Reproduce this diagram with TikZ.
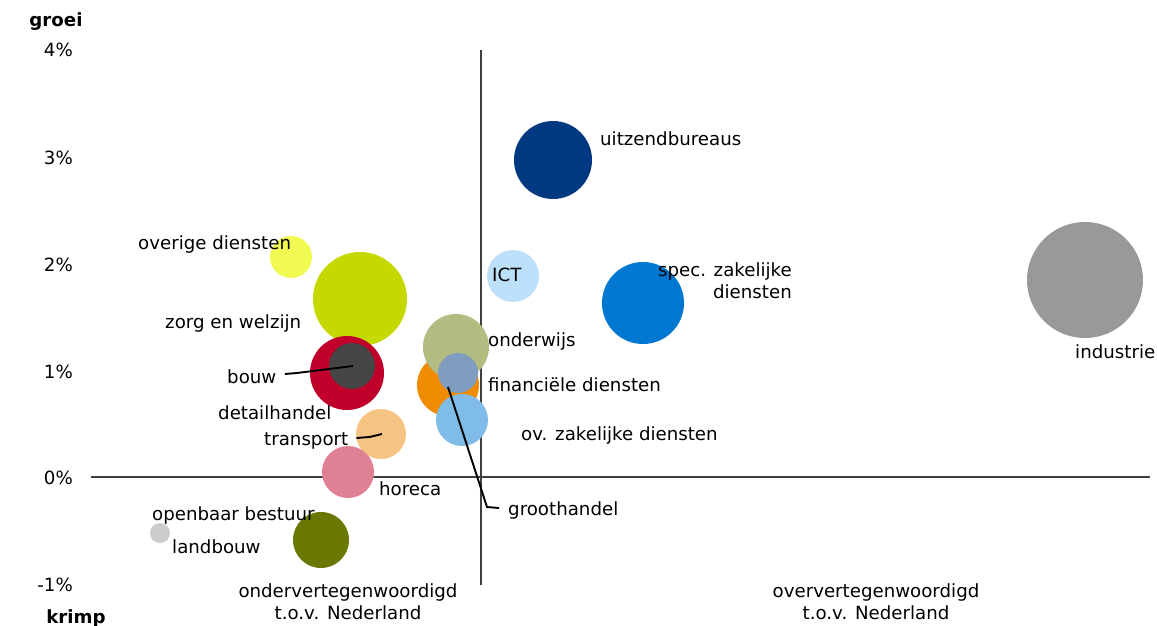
\documentclass[tikz,border=0pt]{standalone}
\usepackage{fontspec}
\setmainfont{DejaVu Sans}
\usetikzlibrary{positioning}

\definecolor{cUitz}{HTML}{003882}
\definecolor{cInd}{HTML}{999999}
\definecolor{cSpec}{HTML}{0077D0}
\definecolor{cICT}{HTML}{BDE0FA}
\definecolor{cOver}{HTML}{F0FA50}
\definecolor{cZorg}{HTML}{C5D900}
\definecolor{cDetail}{HTML}{C0002A}
\definecolor{cBouw}{HTML}{454545}
\definecolor{cOnder}{HTML}{B2BC80}
\definecolor{cFin}{HTML}{F08C00}
\definecolor{cOvZak}{HTML}{80BCE8}
\definecolor{cGroot}{HTML}{809CC0}
\definecolor{cTrans}{HTML}{F6C482}
\definecolor{cHoreca}{HTML}{E08094}
\definecolor{cLand}{HTML}{697800}
\definecolor{cOpen}{HTML}{CCCCCC}
\definecolor{cAxis}{HTML}{404040}

\begin{document}
\begin{tikzpicture}[x=1pt,y=-1pt,
	every node/.style={font=\fontsize{18.2}{22}\selectfont},
	bubble/.style={circle,inner sep=0pt,draw=none},
	lbl/.style={inner sep=0pt,text height=16pt,text depth=2pt},
	axis/.style={cAxis,line width=1.4pt},
	leader/.style={black,line width=1.9pt}]
		\useasboundingbox (0,0) rectangle (1157,626);

		\draw[axis] (91,477) -- (1150,477);
		\draw[axis] (481,50) -- (481,585);

		% y axis
		\node[lbl,anchor=east] (t4) at (73,50) {4\%};
		\node[lbl,anchor=east] (t3) at (73,157) {3\%};
		\node[lbl,anchor=east] (t2) at (73,264) {2\%};
		\node[lbl,anchor=east] (t1) at (73,371) {1\%};
		\node[lbl,anchor=east] (t0) at (73,477) {0\%};
		\node[lbl,anchor=east] (tm1) at (73,584) {-1\%};
		\node[lbl,font=\fontsize{18.2}{22}\selectfont\bfseries] (groei) at (56,20) {groei};
		\node[lbl,font=\fontsize{18.2}{22}\selectfont\bfseries] (krimp) at (76,616) {krimp};

		% bubbles
		\node[bubble,fill=cInd,minimum size=116pt] (bInd) at (1085,280) {};
		\node[bubble,fill=cUitz,minimum size=78pt] (bUitz) at (553,160) {};
		\node[bubble,fill=cSpec,minimum size=82pt] (bSpec) at (643,303) {};
		\node[bubble,fill=cICT,minimum size=52pt] (bICT) at (513,276) {};
		\node[bubble,fill=cOver,minimum size=42pt] (bOver) at (291,257) {};
		\node[bubble,fill=cZorg,minimum size=94pt] (bZorg) at (360,299) {};
		\node[bubble,fill=cDetail,minimum size=74pt] (bDetail) at (347,373) {};
		\node[bubble,fill=cBouw,minimum size=46pt] (bBouw) at (352,366) {};
		\node[bubble,fill=cFin,minimum size=62pt] (bFin) at (448,385) {};
		\node[bubble,fill=cOnder,minimum size=66pt] (bOnder) at (456,347) {};
		\node[bubble,fill=cOvZak,minimum size=52pt] (bOvZak) at (462,420) {};
		\node[bubble,fill=cGroot,minimum size=40pt] (bGroot) at (458,373) {};
		\node[bubble,fill=cTrans,minimum size=50pt] (bTrans) at (381,434) {};
		\node[bubble,fill=cHoreca,minimum size=52pt] (bHoreca) at (348,472) {};
		\node[bubble,fill=cLand,minimum size=56pt] (bLand) at (321,540) {};
		\node[bubble,fill=cOpen,minimum size=20pt] (bOpen) at (160,533) {};

		% labels
		\node[lbl,anchor=west] (lUitz) at (600,138) {uitzendbureaus};
		\node[lbl,anchor=west] (lInd) at (1075,351) {industrie};
		\node[lbl,anchor=north east,align=right,text height=,text depth=] (lSpec) at (792,262) {spec. zakelijke\\diensten};
		\node[lbl,anchor=west] (lICT) at (492,274) {ICT};
		\node[lbl,anchor=west] (lOver) at (138,242) {overige diensten};
		\node[lbl,anchor=west] (lZorg) at (165,321) {zorg en welzijn};
		\node[lbl,anchor=west] (lOnder) at (488,339) {onderwijs};
		\node[lbl,anchor=west] (lBouw) at (227,376) {bouw};
		\node[lbl,anchor=west] (lFin) at (488,384) {financiële diensten};
		\node[lbl,anchor=west] (lDetail) at (218,412) {detailhandel};
		\node[lbl,anchor=west] (lTrans) at (264,438) {transport};
		\node[lbl,anchor=west] (lOvZak) at (521,433) {ov. zakelijke diensten};
		\node[lbl,anchor=west] (lHoreca) at (379,488) {horeca};
		\node[lbl,anchor=west] (lGroot) at (508,508) {groothandel};
		\node[lbl,anchor=west] (lOpen) at (152,513) {openbaar bestuur};
		\node[lbl,anchor=west] (lLand) at (172,546) {landbouw};
		\node[align=center,inner sep=0pt,anchor=north] (lOnderv) at (348,583) {ondervertegenwoordigd\\t.o.v. Nederland};
		\node[align=center,inner sep=0pt,anchor=north] (lOverv) at (876,583) {oververtegenwoordigd\\t.o.v. Nederland};

		% leader lines
		\draw[leader] (285,374) -- ++(12,-1) -- ([xshift=1pt]bBouw.center);
		\draw[leader] ([xshift=8pt]lTrans.east) -- ++(13,-1) -- ([xshift=1pt]bTrans.center);
		\draw[leader] ([shift={(-10,14)}]bGroot.center) -- (487,507) -- ([xshift=-9pt]lGroot.west);
	\end{tikzpicture}
\end{document}
